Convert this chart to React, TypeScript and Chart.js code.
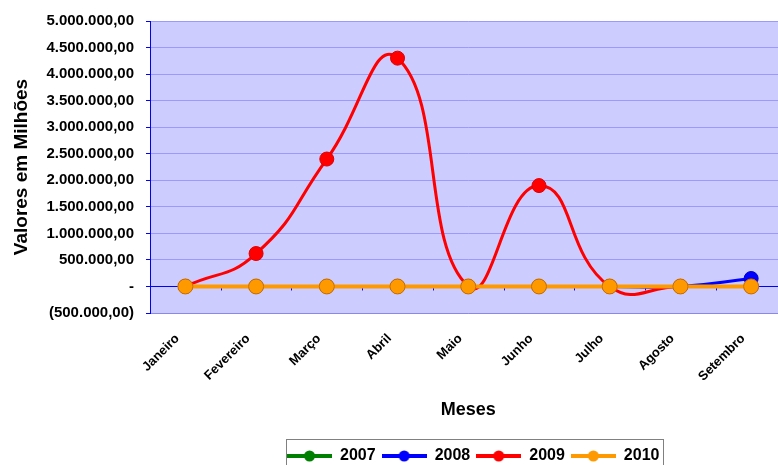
import React, { useEffect, useRef } from "react";
import { Chart, registerables } from "chart.js";

Chart.register(...registerables);

const months = ["Janeiro", "Fevereiro", "Março", "Abril", "Maio", "Junho", "Julho", "Agosto", "Setembro"];
const series2007 = [0, 0, 0, 0, 0, 0, 0, 0, 0];
const series2008 = [0, 0, 0, 0, 0, 0, 0, 0, 150000];
const series2009 = [0, 620000, 2400000, 4300000, 0, 1900000, 0, 0, 0];
const series2010 = [0, 0, 0, 0, 0, 0, 0, 0, 0];
const seriesLabels = ["2007", "2008", "2009", "2010"];
const seriesColors = ["#008000", "#0000FF", "#FF0000", "#FF9900"];
const yMin = -500000;
const yMax = 5000000;
const yStep = 500000;
const yTitle = "Valores em Milhões";
const xTitle = "Meses";

const FONT = "Arial, 'Liberation Sans', sans-serif";

function fmt(v: number): string {
  if (Math.abs(v) < 1) return "-";
  const a = Math.round(Math.abs(v));
  const s = String(a).replace(/\B(?=(\d{3})+(?!\d))/g, ".") + ",00";
  return v < 0 ? "(" + s + ")" : s;
}

function makeSymbol(color: string): HTMLCanvasElement {
  const c = document.createElement("canvas");
  c.width = 45;
  c.height = 14;
  const ctx = c.getContext("2d")!;
  ctx.strokeStyle = color;
  ctx.lineWidth = 4;
  ctx.beginPath();
  ctx.moveTo(0, 7);
  ctx.lineTo(45, 7);
  ctx.stroke();
  ctx.fillStyle = color;
  ctx.beginPath();
  ctx.arc(22.5, 7, 5.5, 0, Math.PI * 2);
  ctx.fill();
  return c;
}

export default function App() {
  const ref = useRef<HTMLCanvasElement>(null);

  useEffect(() => {
    const canvas = ref.current!;
    const symbols = seriesColors.map(makeSymbol);
    const allSeries = [series2007, series2008, series2009, series2010];
    const pointBorders = ["#006000", "#0000CC", "#E00000", "#CC7000"];

    const bgPlugin = {
      id: "plotBg",
      beforeDraw(chart: any) {
        const { ctx, chartArea: a } = chart;
        ctx.save();
        ctx.fillStyle = "#CCCCFF";
        ctx.fillRect(a.left, a.top, a.right - a.left, a.bottom - a.top);
        ctx.restore();
      },
      afterLayout(chart: any) {
        const lg = chart.legend;
        if (lg) {
          lg.left += 5;
          lg.right += 5;
        }
      },
      beforeDatasetsDraw(chart: any) {
        const { ctx, chartArea: a } = chart;
        const y0 = chart.scales.y.getPixelForValue(0);
        const n = months.length;
        const step = (a.right - a.left) / n;
        ctx.save();
        ctx.strokeStyle = "#0000FF";
        ctx.lineWidth = 1;
        ctx.beginPath();
        for (let k = 0; k <= n; k++) {
          const x = Math.round(a.left + k * step) + 0.5;
          ctx.moveTo(x, y0);
          ctx.lineTo(x, y0 + 4);
        }
        ctx.stroke();
        ctx.restore();
      },
      afterDraw(chart: any) {
        const lg = chart.legend;
        if (!lg || !lg.legendHitBoxes || !lg.legendHitBoxes.length) return;
        const hb = lg.legendHitBoxes;
        let l = Infinity, r = -Infinity, t = Infinity, b = -Infinity;
        hb.forEach((h: any) => {
          l = Math.min(l, h.left);
          r = Math.max(r, h.left + h.width);
          t = Math.min(t, h.top);
          b = Math.max(b, h.top + h.height);
        });
        const { ctx } = chart;
        ctx.save();
        ctx.strokeStyle = "#808080";
        ctx.lineWidth = 1;
        ctx.strokeRect(Math.round(l - 1) + 0.5, Math.round(t - 9) + 0.5, Math.round(r - l + 5), Math.round(b - t + 18));
        ctx.restore();
      },
    };

    const chart = new Chart(canvas, {
      type: "line",
      data: {
        labels: months,
        datasets: allSeries.map((d, i) => ({
          label: seriesLabels[i],
          data: d,
          borderColor: seriesColors[i],
          backgroundColor: seriesColors[i],
          pointBackgroundColor: seriesColors[i],
          pointBorderColor: pointBorders[i],
          pointBorderWidth: 1,
          pointRadius: i === 3 ? 7.5 : 7,
          borderWidth: i === 3 ? 4 : 3,
          tension: 0.5,
          fill: false,
          order: 3 - i,
        })),
      },
      options: {
        responsive: false,
        devicePixelRatio: 1,
        animation: false,
        layout: { padding: { top: 20, left: 0, right: 4, bottom: 0 } },
        plugins: {
          tooltip: { enabled: false },
          legend: {
            position: "bottom",
            fullSize: false,
            labels: {
              usePointStyle: true,
              pointStyleWidth: 45,
              padding: 6,
              color: "#000",
              font: { family: FONT, size: 16, weight: "bold" },
              generateLabels: () =>
                seriesLabels.map((t, i) => ({
                  text: t,
                  pointStyle: symbols[i],
                  fillStyle: seriesColors[i],
                  strokeStyle: seriesColors[i],
                  lineWidth: 0,
                  hidden: false,
                  datasetIndex: i,
                  fontColor: "#000",
                })),
            },
          },
        },
        scales: {
          x: {
            offset: true,
            afterFit: (s: any) => {
              s.height = 129;
            },
            grid: { display: false, offset: true },
            border: { display: true, color: "#8888EE", width: 1 },
            ticks: {
              minRotation: 45,
              maxRotation: 45,
              padding: 10,
              labelOffset: -8,
              color: "#000",
              font: { family: FONT, size: 13, weight: "bold" },
            },
            title: {
              display: true,
              text: xTitle,
              color: "#000",
              font: { family: FONT, size: 18, weight: "bold" },
              padding: { top: 0, bottom: 21 },
            },
          },
          y: {
            min: yMin,
            max: yMax,
            afterFit: (s: any) => {
              s.width = 150;
            },
            border: { display: true, color: "#0000FF", width: 1 },
            grid: {
              color: (c: any) => (c.tick && c.tick.value === 0 ? "#0000FF" : "#9999FF"),
              tickColor: "#0000FF",
              tickLength: 4,
              drawTicks: true,
            },
            ticks: {
              stepSize: yStep,
              padding: 12,
              color: "#000",
              font: { family: FONT, size: 15, weight: "bold" },
              callback: (v: any) => fmt(Number(v)),
            },
            title: {
              display: true,
              text: yTitle,
              color: "#000",
              font: { family: FONT, size: 19, weight: "bold" },
              padding: { top: 10, bottom: 0 },
            },
          },
        },
      },
      plugins: [bgPlugin],
    } as any);

    return () => chart.destroy();
  }, []);

  return (
    <div
      style={{
        position: "fixed",
        left: 0,
        top: 0,
        width: 778,
        height: 465,
        overflow: "hidden",
        background: "#fff",
      }}
    >
      <canvas ref={ref} width={795} height={474} style={{ display: "block", width: 795, height: 474 }} />
    </div>
  );
}
